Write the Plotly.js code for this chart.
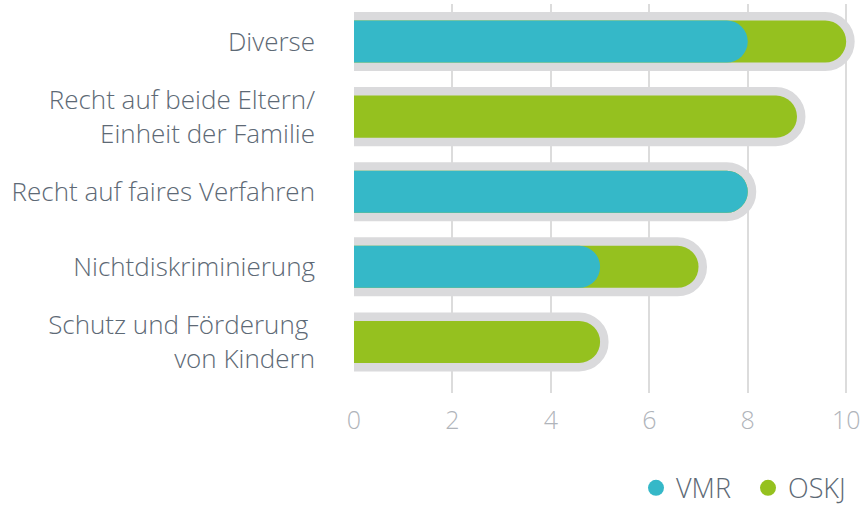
<!DOCTYPE html>
<html><head><meta charset="utf-8">
<script src="https://cdn.plot.ly/plotly-3.0.1.min.js"></script>
<style>html,body{margin:0;padding:0;background:#fff}#c{width:864px;height:509px}</style>
</head><body><div id="c"></div>
<script>
const categories = ["Diverse", "Recht auf beide Eltern/<br>Einheit der Familie", "Recht auf faires Verfahren", "Nichtdiskriminierung", "Schutz und Förderung\u00a0<br>von Kindern"];
const vmr = [8, 0, 8, 5, 0];
const oskj = [2, 9, 0, 2, 5];
const xTicks = [0, 2, 4, 6, 8, 10];
const totals = vmr.map((v, i) => v + oskj[i]);

const teal = "#35b8c8", green = "#95c11f", grey = "#dadadc";
const labelFont = "Open Sans, Lato, sans-serif";

const traces = [
  {type: "bar", orientation: "h", y: categories, x: totals, width: 0.56, showlegend: false, hoverinfo: "skip",
   marker: {color: grey, cornerradius: "50%", line: {color: grey, width: 17}}},
  {type: "bar", orientation: "h", y: categories, x: totals, width: 0.56, showlegend: false, hoverinfo: "skip",
   marker: {color: green, cornerradius: "50%", line: {width: 0}}},
  {type: "bar", orientation: "h", y: categories, x: vmr, yaxis: "y2", width: 0.56, showlegend: false, hoverinfo: "skip",
   marker: {color: teal, cornerradius: "50%", line: {width: 0}}},
  {type: "scatter", mode: "markers", x: [null], y: [null], name: "VMR", marker: {color: teal, size: 22, symbol: "circle"}},
  {type: "scatter", mode: "markers", x: [null], y: [null], name: "OSKJ", marker: {color: green, size: 22, symbol: "circle"}}
];

const layout = {
  width: 864, height: 509,
  margin: {l: 354, r: 6, t: 4, b: 116, autoexpand: false},
  paper_bgcolor: "#fff", plot_bgcolor: "rgba(0,0,0,0)",
  barmode: "overlay",
  font: {family: labelFont, color: "#5d6975", weight: 300},
  xaxis: {range: [0, 10.24], tickvals: xTicks, showgrid: true, gridcolor: "#dcdcdc", gridwidth: 2,
          zeroline: false, showline: false, ticks: "", ticklabelstandoff: 10, automargin: false,
          tickfont: {size: 25, color: "#b0b4ba", family: labelFont, weight: 300}},
  yaxis: {type: "category", categoryarray: categories, range: [4.68, -0.5], showgrid: false, zeroline: false, showline: false, ticks: "",
          ticklabelstandoff: 38, automargin: false, tickfont: {size: 26, color: "#5d6975", family: labelFont, weight: 300}},
  yaxis2: {type: "category", categoryarray: categories, overlaying: "y", range: [4.68, -0.5], visible: false,
           showgrid: false, zeroline: false, showticklabels: false},
  showlegend: true,
  legend: {orientation: "h", x: 1.004, xanchor: "right", y: -0.308, yanchor: "bottom",
           entrywidth: 67, entrywidthmode: "pixels",
           font: {size: 27, color: "#5d6975", family: labelFont, weight: 300}, itemclick: false}
};
Plotly.newPlot("c", traces, layout, {staticPlot: true});
</script></body></html>
